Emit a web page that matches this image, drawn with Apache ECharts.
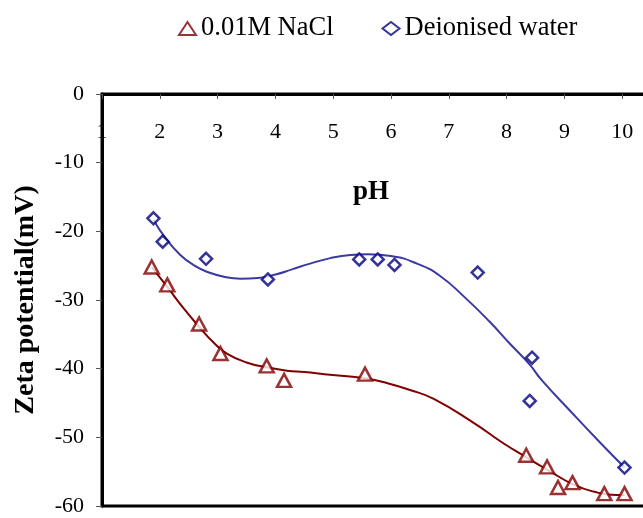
<!DOCTYPE html>
<html>
<head>
<meta charset="utf-8">
<script src="https://cdn.jsdelivr.net/npm/echarts@6/dist/echarts.min.js"></script>
<style>
html,body{margin:0;padding:0;background:#fff;}
#chart{width:643px;height:518px;}
</style>
</head>
<body>
<div id="chart"></div>
<script>
// Measured points
const naclX = [1.86, 2.13, 2.68, 3.05, 3.85, 4.15, 5.55, 8.34, 8.70, 8.89, 9.14, 9.69, 10.04];
const naclY = [-25.2, -27.8, -33.5, -37.8, -39.6, -41.7, -40.8, -52.6, -54.3, -57.3, -56.6, -58.2, -58.2];
const waterX = [1.89, 2.05, 2.80, 3.87, 5.45, 5.77, 6.06, 7.50, 8.44, 8.40, 10.04];
const waterY = [-18.1, -21.5, -24.0, -27.0, -24.1, -24.1, -24.9, -26.0, -38.4, -44.7, -54.4];
// Trend curves
const naclCurveX = [1.86, 2.13, 2.41, 2.68, 2.93, 3.16, 3.5, 3.85, 4.2, 4.5, 4.85, 5.55, 5.93, 6.33, 6.74, 7.43, 7.95, 8.34, 8.7, 9.16, 9.5, 9.9, 10.04];
const naclCurveY = [-25.2, -28.1, -31.2, -33.9, -36.2, -37.8, -39.1, -39.8, -40.3, -40.5, -40.8, -41.4, -42.1, -43.1, -44.4, -47.9, -50.9, -52.9, -54.7, -56.9, -57.9, -58.4, -58.4];
const waterCurveX = [1.89, 2.1, 2.35, 2.6, 2.85, 3.15, 3.4, 3.7, 4.0, 4.3, 4.6, 4.95, 5.3, 5.6, 6.0, 6.45, 6.85, 7.3, 7.7, 8.05, 8.4, 8.6, 9.15, 9.6, 10.04];
const waterCurveY = [-18.3, -21.0, -23.4, -25.0, -26.0, -26.7, -26.9, -26.8, -26.3, -25.5, -24.7, -23.9, -23.45, -23.35, -23.6, -24.7, -26.5, -29.8, -33.1, -36.3, -39.4, -41.6, -46.6, -50.6, -54.4];
const xTicks = [1, 2, 3, 4, 5, 6, 7, 8, 9, 10];
const yTicks = [0, -10, -20, -30, -40, -50, -60];
const seriesNames = ['0.01M NaCl', 'Deionised water'];

const zip = (a, b) => a.map((v, i) => [v, b[i]]);
const FONT = '"Liberation Serif", "DejaVu Serif", serif';

const chart = echarts.init(document.getElementById('chart'), null, {renderer: 'canvas'});
chart.setOption({
  animation: false,
  backgroundColor: '#fff',
  grid: {
    left: 102, top: 94, width: 578, height: 412,
    outerBoundsMode: 'none', containLabel: false,
    show: true, borderColor: '#000', borderWidth: 3, backgroundColor: 'transparent'
  },
  legend: {
    data: seriesNames,
    left: 173, top: 10,
    itemWidth: 17, itemHeight: 13, itemGap: 48,
    textStyle: {fontFamily: FONT, fontSize: 26.5, color: '#000'}
  },
  xAxis: {
    type: 'value', position: 'top', min: 1, max: 11, interval: 1,
    axisLine: {show: true, onZero: false, lineStyle: {color: '#000', width: 3}},
    axisTick: {show: true, inside: true, length: 5, lineStyle: {color: '#555', width: 1}},
    axisLabel: {
      inside: true, margin: 27, fontFamily: FONT, fontSize: 22, color: '#000',
      showMinLabel: true,
      formatter: v => (xTicks.indexOf(v) >= 0 ? String(v) : '')
    },
    splitLine: {show: false}
  },
  yAxis: {
    type: 'value', min: -60, max: 0, interval: 10,
    name: 'Zeta potential(mV)', nameLocation: 'middle', nameGap: 62,
    nameTextStyle: {fontFamily: FONT, fontSize: 28, fontWeight: 'bold', color: '#000'},
    axisLine: {show: true, onZero: false, lineStyle: {color: '#000', width: 3}},
    axisTick: {show: true, inside: false, length: 6, lineStyle: {color: '#555', width: 1}},
    axisLabel: {
      margin: 18, fontFamily: FONT, fontSize: 22, color: '#000',
      formatter: v => (yTicks.indexOf(v) >= 0 ? String(v) : '')
    },
    splitLine: {show: false}
  },
  graphic: [{
    type: 'text', x: 371, y: 192,
    style: {text: 'pH', fontFamily: FONT, fontSize: 27, fontWeight: 'bold', fill: '#000',
      align: 'center', verticalAlign: 'middle'}
  }],
  series: [
    {
      name: 'nacl-trend', type: 'line', data: zip(naclCurveX, naclCurveY),
      smooth: true, showSymbol: false, symbol: 'none',
      lineStyle: {color: '#800000', width: 2}, z: 2, silent: true
    },
    {
      name: 'water-trend', type: 'line', data: zip(waterCurveX, waterCurveY),
      smooth: true, showSymbol: false, symbol: 'none',
      lineStyle: {color: '#3a3aa0', width: 2}, z: 2, silent: true
    },
    {
      name: seriesNames[0], type: 'scatter', data: zip(naclX, naclY),
      symbol: 'triangle', symbolSize: [14, 13],
      itemStyle: {color: '#fff', borderColor: '#800000', borderWidth: 2.5}, z: 3
    },
    {
      name: seriesNames[1], type: 'scatter', data: zip(waterX, waterY),
      symbol: 'diamond', symbolSize: [12, 12],
      itemStyle: {color: '#fff', borderColor: '#000080', borderWidth: 2.5}, z: 3
    }
  ]
});
</script>
</body>
</html>
